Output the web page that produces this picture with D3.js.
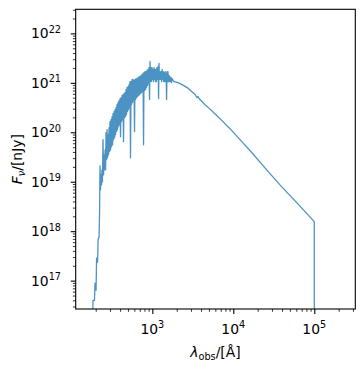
<!DOCTYPE html>
<html>
<head>
<meta charset="utf-8">
<script src="https://cdn.jsdelivr.net/npm/d3@7"></script>
<style>
  html, body { margin: 0; padding: 0; background: #fff; }
  svg { display: block; }
  text { font-family: "DejaVu Sans", sans-serif; fill: #000; }
</style>
</head>
<body>
<svg id="chart" width="364" height="372"></svg>
<script>
// Observed wavelength (Angstrom)
const wavelength = [
  183, 185, 193, 196, 202, 205, 211, 214, 220, 223,
  226, 229, 233, 236, 239, 242, 246, 250, 253, 257, 261, 265, 268, 272, 276, 280, 284, 288, 292, 296,
  300, 305, 309, 313, 318, 323, 327, 332, 337, 342, 346, 351, 356, 361, 366, 371, 377, 382, 388, 394,
  399, 405, 411, 417, 423, 429, 435, 441, 448, 454, 460, 467, 473, 480, 487, 494, 501, 508, 516, 523,
  530, 538, 546, 554, 562, 570, 578, 586, 594, 603, 611, 620, 629, 638, 647, 656, 666, 676, 685, 695,
  705, 715, 725, 736, 746, 757, 768, 779, 790, 801, 813, 825, 836, 848, 860, 873, 885, 898, 911, 924,
  937, 950, 964, 978, 991, 1005, 1020, 1035, 1050, 1065, 1080, 1095, 1110, 1125, 1140, 1160, 1180, 1195, 1210, 1225,
  1240, 1260, 1280, 1300, 1320, 1340, 1360, 1375, 1390, 1410, 1440, 1460, 1480, 1500, 1520, 1540, 1560, 1580, 1610, 1630,
  1650, 1675, 1700, 1725, 1750,
  1850, 2080, 2330, 2760, 3370, 3560, 3640, 3880, 4110, 4470, 5150, 6110, 7250, 8850, 12100, 17000,
  24600, 37700, 61100, 100000, 100000
];
// Flux density F_nu (nJy)
const flux = [
  1e15, 4.0e16, 4.0e16, 8.9e16, 6.4e16, 2.86e17, 2.37e17, 6.95e17, 7.6e17, 2.23e18,
  2.1e19, 6.85e18, 1.38e19, 8.65e18, 1.74e19, 9.95e18, 7.1e19, 1.38e19, 3.5e19, 1.74e19, 4.4e19, 1.74e19, 9.8e19, 2.8e19, 1.13e20, 3.05e19, 8.9e19, 3.5e19, 1.24e20, 4.05e19,
  1.64e20, 4.4e19, 1.80e20, 5.1e19, 2.07e20, 5.6e19, 2.38e20, 7.1e19, 2.62e20, 7.8e19, 2.87e20, 8.9e19, 3.15e20, 1.03e20, 3.63e20, 1.13e20, 3.99e20, 1.30e20, 4.38e20, 1.43e20,
  4.8e20, 8.15e19, 5.0e20, 1.64e20, 5.5e20, 1.80e20, 5.79e20, 6.45e19, 6.1e20, 1.98e20, 6.36e20, 2.07e20, 7.3e20, 2.27e20, 8.0e20, 2.62e20, 8.4e20, 2.87e20, 9.2e20, 3.15e20,
  1.06e21, 3.05e19, 1.06e21, 3.63e20, 1.17e21, 3.99e20, 1.17e21, 4.38e20, 1.11e21, 1.03e20, 1.17e21, 4.6e20, 1.22e21, 5.0e20, 1.22e21, 5.27e20, 1.28e21, 5.5e20, 1.34e21, 5.79e20,
  1.34e21, 6.1e20, 1.41e21, 6.36e20, 1.47e21, 6.7e20, 1.55e21, 5.6e19, 1.62e21, 6.98e20, 1.69e21, 7.3e20, 1.69e21, 8.0e20, 1.78e21, 8.8e20, 1.86e21, 9.7e20, 2.04e21, 4.6e20,
  2.70e21, 1.06e21, 2.04e21, 1.06e21, 2.04e21, 1.17e21, 1.86e21, 1.06e21, 2.04e21, 1.17e21, 1.86e21, 1.06e21, 1.86e21, 1.06e21, 2.04e21, 1.17e21, 2.14e21, 4.8e20, 2.46e21, 1.17e21,
  1.69e21, 1.17e21, 1.69e21, 1.06e21, 1.86e21, 1.17e21, 1.69e21, 1.06e21, 1.62e21, 1.06e21, 1.69e21, 1.06e21, 1.55e21, 4.6e20, 1.69e21, 1.06e21, 1.69e21, 1.06e21, 1.41e21, 1.06e21,
  1.34e21, 1.06e21, 1.28e21, 1.01e21, 1.22e21,
  1.06e21, 1.01e21, 9.2e20, 7.8e20, 5.8e20, 5.0e20, 5.3e20, 4.6e20, 4.2e20, 3.6e20, 2.94e20, 2.27e20, 1.72e20, 1.24e20, 7.1e19, 3.86e19,
  1.91e19, 8.65e18, 3.73e18, 1.56e18, 1e15
];
const xMajorTicks = [1e3, 1e4, 1e5];
const xTickExp = ["3", "4", "5"];
const yMajorTicks = [1e17, 1e18, 1e19, 1e20, 1e21, 1e22];
const yTickExp = ["17", "18", "19", "20", "21", "22"];
const xDomain = [113.2, 3.21e5];
const yDomain = [2.67e16, 3.07e22];

const svg = d3.select("#chart");
const L = 75.7, R = 355.3, T = 9.3, B = 309;

const x = d3.scaleLog().domain(xDomain).range([L, R]);
const y = d3.scaleLog().domain(yDomain).range([B, T]);

function minorTicks(domain) {
  const out = [];
  const lo = Math.floor(Math.log10(domain[0])), hi = Math.ceil(Math.log10(domain[1]));
  for (let e = lo; e <= hi; e++) {
    for (let m = 2; m <= 9; m++) {
      const v = m * Math.pow(10, e);
      if (v >= domain[0] && v <= domain[1]) out.push(v);
    }
  }
  return out;
}

svg.append("defs").append("clipPath").attr("id", "clip")
  .append("rect").attr("x", L).attr("y", T).attr("width", R - L).attr("height", B - T);

const n = Math.min(wavelength.length, flux.length);
const pts = d3.range(n).map(i => [wavelength[i], flux[i]]);
const line = d3.line().x(d => x(d[0])).y(d => y(d[1]));
svg.append("path")
  .datum(pts)
  .attr("clip-path", "url(#clip)")
  .attr("d", line)
  .attr("fill", "none")
  .attr("stroke", "#1f77b4")
  .attr("stroke-opacity", 0.8)
  .attr("stroke-width", 1.3)
  .attr("stroke-linejoin", "round");

// axes
const gx = svg.append("g").attr("transform", `translate(0,${B})`);
gx.call(d3.axisBottom(x).tickValues(xMajorTicks).tickSize(4.9).tickFormat(""));
const gxm = svg.append("g").attr("transform", `translate(0,${B})`);
gxm.call(d3.axisBottom(x).tickValues(minorTicks(xDomain)).tickSize(2.8).tickFormat(""));
const gy = svg.append("g").attr("transform", `translate(${L},0)`);
gy.call(d3.axisLeft(y).tickValues(yMajorTicks).tickSize(4.9).tickFormat(""));
const gym = svg.append("g").attr("transform", `translate(${L},0)`);
gym.call(d3.axisLeft(y).tickValues(minorTicks(yDomain)).tickSize(2.8).tickFormat(""));
[gx, gxm, gy, gym].forEach(g => {
  g.select(".domain").remove();
  g.selectAll("line").attr("stroke", "#000");
});
[gx, gy].forEach(g => g.selectAll("line").attr("stroke-width", 1.1));
[gxm, gym].forEach(g => g.selectAll("line").attr("stroke-width", 0.8));

svg.append("rect").attr("x", L).attr("y", T).attr("width", R - L).attr("height", B - T)
  .attr("fill", "none").attr("stroke", "#000").attr("stroke-width", 1.1);

// tick labels
xMajorTicks.forEach((v, i) => {
  const t = svg.append("text").attr("x", x(v)).attr("y", B + 24.5)
    .attr("text-anchor", "middle").style("font-size", "13.9px");
  t.append("tspan").text("10");
  t.append("tspan").attr("dy", -5.5).style("font-size", "9.7px").text(xTickExp[i]);
});
yMajorTicks.forEach((v, i) => {
  const t = svg.append("text").attr("x", 61).attr("y", y(v) + 5)
    .attr("text-anchor", "end").style("font-size", "13.9px");
  t.append("tspan").text("10");
  t.append("tspan").attr("dy", -5.5).style("font-size", "9.7px").text(yTickExp[i]);
});

// axis labels
const xl = svg.append("text").attr("x", (L + R) / 2).attr("y", 357)
  .attr("text-anchor", "middle").style("font-size", "13.9px");
xl.append("tspan").style("font-style", "italic").text("λ");
xl.append("tspan").attr("dy", 3).style("font-size", "9.7px").text("obs");
xl.append("tspan").attr("dy", -3).text("/[Å]");

const yl = svg.append("text")
  .attr("transform", `translate(22,${(T + B) / 2}) rotate(-90)`)
  .attr("text-anchor", "middle").style("font-size", "13.9px");
yl.append("tspan").style("font-style", "italic").text("F");
yl.append("tspan").attr("dy", 3).style("font-size", "9.7px").style("font-style", "italic").text("ν");
yl.append("tspan").attr("dy", -3).text("/[nJy]");
</script>
</body>
</html>
